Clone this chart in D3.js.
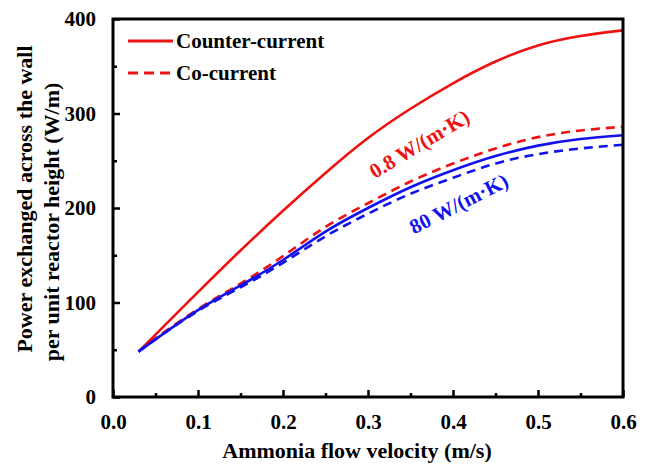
<!DOCTYPE html>
<html><head><meta charset="utf-8">
<script src="https://cdn.jsdelivr.net/npm/d3@7"></script>
<style>
body{margin:0;background:#fff;}
svg text{font-family:"Liberation Serif","Times New Roman",serif;font-weight:bold;}
</style></head>
<body><svg id="c" width="650" height="466"></svg>
<script>
const velocity = [0.03,0.05,0.1,0.15,0.2,0.25,0.3,0.35,0.4,0.45,0.5,0.55,0.6];
const counter08 = [48,66,111,155,197,237,274,305,332,355,372,382,388];
const co08      = [48,62,93,120,149,180,205,228,247,263,275,282,286];
const counter80 = [48,61,92,118,145,175,200,222,240,255,266,273,277];
const co80      = [48,61,91,116,142,170,194,215,232,247,257,263,267];
const xTicks = [0,0.1,0.2,0.3,0.4,0.5,0.6];
const yTicks = [0,100,200,300,400];
const legendLabels = ["Counter-current","Co-current"];
const annotations = ["0.8 W/(m\u00B7K)","80 W/(m\u00B7K)"];

const FONT = "'Liberation Serif','Times New Roman',serif";
const m = {l:113,t:19,r:27,b:69};
const W = 650, H = 466;
const svg = d3.select("#c");
const x = d3.scaleLinear().domain([0,0.6]).range([m.l, W-m.r]);
const y = d3.scaleLinear().domain([0,400]).range([H-m.b, m.t]);

const series = [
  {v:counter08, c:"#ee1111", dash:null},
  {v:co08, c:"#ee1111", dash:"9,6"},
  {v:counter80, c:"#1111ee", dash:null},
  {v:co80, c:"#1111ee", dash:"9,6"}
];
const line = d3.line().x((d,i)=>x(velocity[i])).y(d=>y(d)).curve(d3.curveNatural);
series.forEach(s=>{
  svg.append("path").attr("d", line(s.v)).attr("fill","none")
    .attr("stroke", s.c).attr("stroke-width", 2.6)
    .attr("stroke-dasharray", s.dash);
});

// axes
const xAxis = d3.axisBottom(x).tickValues(xTicks).tickSizeInner(-7).tickSizeOuter(0).tickPadding(17).tickFormat(d3.format(".1f"));
const yAxis = d3.axisLeft(y).tickValues(yTicks).tickSizeInner(-7).tickSizeOuter(0).tickPadding(17).tickFormat(d3.format("d"));
const gx = svg.append("g").attr("transform",`translate(0,${H-m.b})`).call(xAxis);
const gy = svg.append("g").attr("transform",`translate(${m.l},0)`).call(yAxis);
const xMinor = d3.axisBottom(x).tickValues([0.05,0.15,0.25,0.35,0.45,0.55]).tickSize(-4).tickFormat("");
const yMinor = d3.axisLeft(y).tickValues([50,150,250,350]).tickSize(-4).tickFormat("");
svg.append("g").attr("transform",`translate(0,${H-m.b})`).call(xMinor);
svg.append("g").attr("transform",`translate(${m.l},0)`).call(yMinor);
svg.selectAll("g").attr("font-family", FONT);
svg.selectAll(".domain").remove();
svg.selectAll(".tick line").attr("stroke","#000").attr("stroke-width",2.5);
svg.selectAll(".tick text").attr("font-size",21).attr("fill","#000").attr("font-family",FONT).attr("font-weight","bold");
gy.selectAll(".tick text").attr("dy","0.33em");
// frame
svg.append("rect").attr("x",m.l).attr("y",m.t).attr("width",W-m.r-m.l).attr("height",H-m.b-m.t)
  .attr("fill","none").attr("stroke","#000").attr("stroke-width",3);

function txt(sel){ return sel.attr("font-family",FONT).attr("font-weight","bold"); }
// axis titles
txt(svg.append("text")).attr("x",357).attr("y",458).attr("text-anchor","middle").attr("font-size",22).text("Ammonia flow velocity (m/s)");
txt(svg.append("text")).attr("transform","translate(32,199) rotate(-90)").attr("text-anchor","middle").attr("font-size",22).text("Power exchanged across the wall");
txt(svg.append("text")).attr("transform","translate(59,222) rotate(-90)").attr("text-anchor","middle").attr("font-size",22).text("per unit reactor height (W/m)");

// legend
const lg = svg.append("g");
legendLabels.forEach((t,i)=>{
  const yy = 41 + i*32;
  lg.append("line").attr("x1",128).attr("x2",173).attr("y1",yy).attr("y2",yy)
    .attr("stroke","#ee1111").attr("stroke-width",3).attr("stroke-dasharray", i? "10,6":null);
  txt(lg.append("text")).attr("x",176).attr("y",yy+7).attr("font-size",21).text(t);
});

// annotations
txt(svg.append("text")).attr("transform","translate(423,150) rotate(-31)").attr("text-anchor","middle")
  .attr("font-size",21).attr("fill","#ee1111").text(annotations[0]);
txt(svg.append("text")).attr("transform","translate(462,210) rotate(-27)").attr("text-anchor","middle")
  .attr("font-size",21).attr("fill","#1111ee").text(annotations[1]);
</script></body></html>
